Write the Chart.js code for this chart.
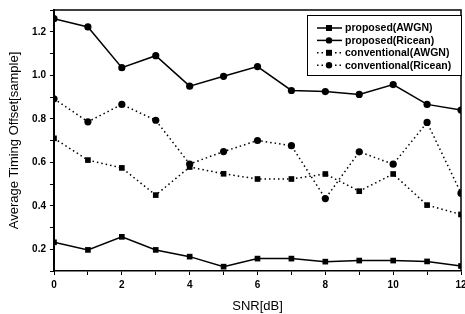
<!DOCTYPE html>
<html>
<head>
<meta charset="utf-8">
<script src="https://cdn.jsdelivr.net/npm/chart.js@4.4.0/dist/chart.umd.min.js"></script>
<style>
    body { margin: 0; background: #fff; }
    #wrap { width: 465px; height: 314px; }
</style>
</head>
<body>
<div id="wrap"><canvas id="snrChart" width="465" height="314"></canvas></div>
<script>
const snr = [0, 1, 2, 3, 4, 5, 6, 7, 8, 9, 10, 11, 12];
const proposedAwgn = [0.232, 0.197, 0.257, 0.197, 0.166, 0.12, 0.157, 0.157, 0.143, 0.148, 0.148, 0.144, 0.123];
const proposedRicean = [1.26, 1.222, 1.035, 1.09, 0.95, 0.995, 1.04, 0.93, 0.925, 0.912, 0.957, 0.866, 0.84];
const convAwgn = [0.71, 0.61, 0.574, 0.449, 0.578, 0.547, 0.523, 0.523, 0.546, 0.467, 0.546, 0.403, 0.36];
const convRicean = [0.892, 0.786, 0.866, 0.793, 0.592, 0.649, 0.70, 0.676, 0.433, 0.648, 0.591, 0.783, 0.458];
const seriesNames = ['proposed(AWGN)', 'proposed(Ricean)', 'conventional(AWGN)', 'conventional(Ricean)'];

function pts(vals) {
    return snr.map((x, i) => ({ x: x, y: vals[i] }));
}

function lineSet(label, vals, shape, dotted) {
    return {
        label: label,
        data: pts(vals),
        borderColor: '#000',
        backgroundColor: '#000',
        borderWidth: 1.5,
        borderDash: dotted ? [1.5, 3] : [],
        pointStyle: shape,
        pointRadius: shape === 'rect' ? 4 : 3.6,
        pointBorderWidth: 0,
        tension: 0
    };
}

// frame on top/right and the boxed legend
const framePlugin = {
    id: 'frame',
    afterDraw(c) {
        const ctx = c.ctx;
        const a = c.chartArea;
        ctx.save();
        ctx.strokeStyle = '#000';
        ctx.lineWidth = 1.5;
        ctx.beginPath();
        ctx.moveTo(a.left, a.top);
        ctx.lineTo(a.right, a.top);
        ctx.lineTo(a.right, a.bottom);
        ctx.stroke();

        // legend
        const bx = 307, by = 15, bw = 154, bh = 60;
        ctx.fillStyle = '#fff';
        ctx.fillRect(bx, by, bw, bh);
        ctx.lineWidth = 1;
        ctx.strokeRect(bx + 0.5, by + 0.5, bw, bh);
        ctx.font = 'bold 10.5px "Liberation Sans", Arial, sans-serif';
        ctx.textBaseline = 'middle';
        c.data.datasets.forEach((ds, i) => {
            const y = 28 + i * 12.4;
            ctx.strokeStyle = '#000';
            ctx.lineWidth = 1.5;
            ctx.setLineDash(ds.borderDash);
            ctx.beginPath();
            ctx.moveTo(317, y);
            ctx.lineTo(342, y);
            ctx.stroke();
            ctx.setLineDash([]);
            ctx.fillStyle = '#000';
            ctx.beginPath();
            if (ds.pointStyle === 'rect') {
                ctx.rect(326, y - 3, 6, 6);
            } else {
                ctx.arc(329, y, 3.2, 0, Math.PI * 2);
            }
            ctx.fill();
            ctx.fillText(ds.label, 345, y + 0.5);
        });
        ctx.restore();
    }
};

const tickFont = { family: '"Liberation Sans", Arial, sans-serif', size: 10, weight: 'bold' };
const titleFont = { family: '"Liberation Sans", Arial, sans-serif', size: 13 };

new Chart(document.getElementById('snrChart'), {
    type: 'line',
    data: {
        datasets: [
            lineSet(seriesNames[0], proposedAwgn, 'rect', false),
            lineSet(seriesNames[1], proposedRicean, 'circle', false),
            lineSet(seriesNames[2], convAwgn, 'rect', true),
            lineSet(seriesNames[3], convRicean, 'circle', true)
        ]
    },
    options: {
        responsive: false,
        animation: false,
        layout: { padding: { top: 9, right: 3, left: 0, bottom: 0 } },
        plugins: { legend: { display: false }, tooltip: { enabled: false } },
        scales: {
            x: {
                type: 'linear',
                min: 0,
                max: 12,
                afterFit: s => { s.height = 43; s.paddingRight = 0; },
                border: { color: '#000', width: 1.5 },
                grid: { drawOnChartArea: false, color: '#000', tickLength: 4, lineWidth: 1 },
                ticks: {
                    stepSize: 1,
                    autoSkip: false,
                    maxRotation: 0,
                    color: '#000',
                    font: tickFont,
                    padding: 4,
                    callback: v => (v % 2 === 0 ? String(v) : '')
                },
                title: {
                    display: true,
                    text: 'SNR[dB]',
                    color: '#000',
                    font: titleFont,
                    padding: { top: 4, bottom: 0 }
                }
            },
            y: {
                min: 0.1,
                max: 1.3,
                afterFit: s => { s.width = 54; },
                border: { color: '#000', width: 2 },
                grid: { drawOnChartArea: false, color: '#000', tickLength: 4, lineWidth: 1 },
                ticks: {
                    stepSize: 0.1,
                    autoSkip: false,
                    color: '#000',
                    font: tickFont,
                    padding: 4,
                    callback: v => {
                        const n = Math.round(v * 10);
                        return (n % 2 === 0) ? (n / 10).toFixed(1) : '';
                    }
                },
                title: {
                    display: true,
                    text: 'Average Timing Offset[sample]',
                    color: '#000',
                    font: titleFont,
                    padding: { top: 7, bottom: 0 }
                }
            }
        }
    },
    plugins: [framePlugin]
});
</script>
</body>
</html>
